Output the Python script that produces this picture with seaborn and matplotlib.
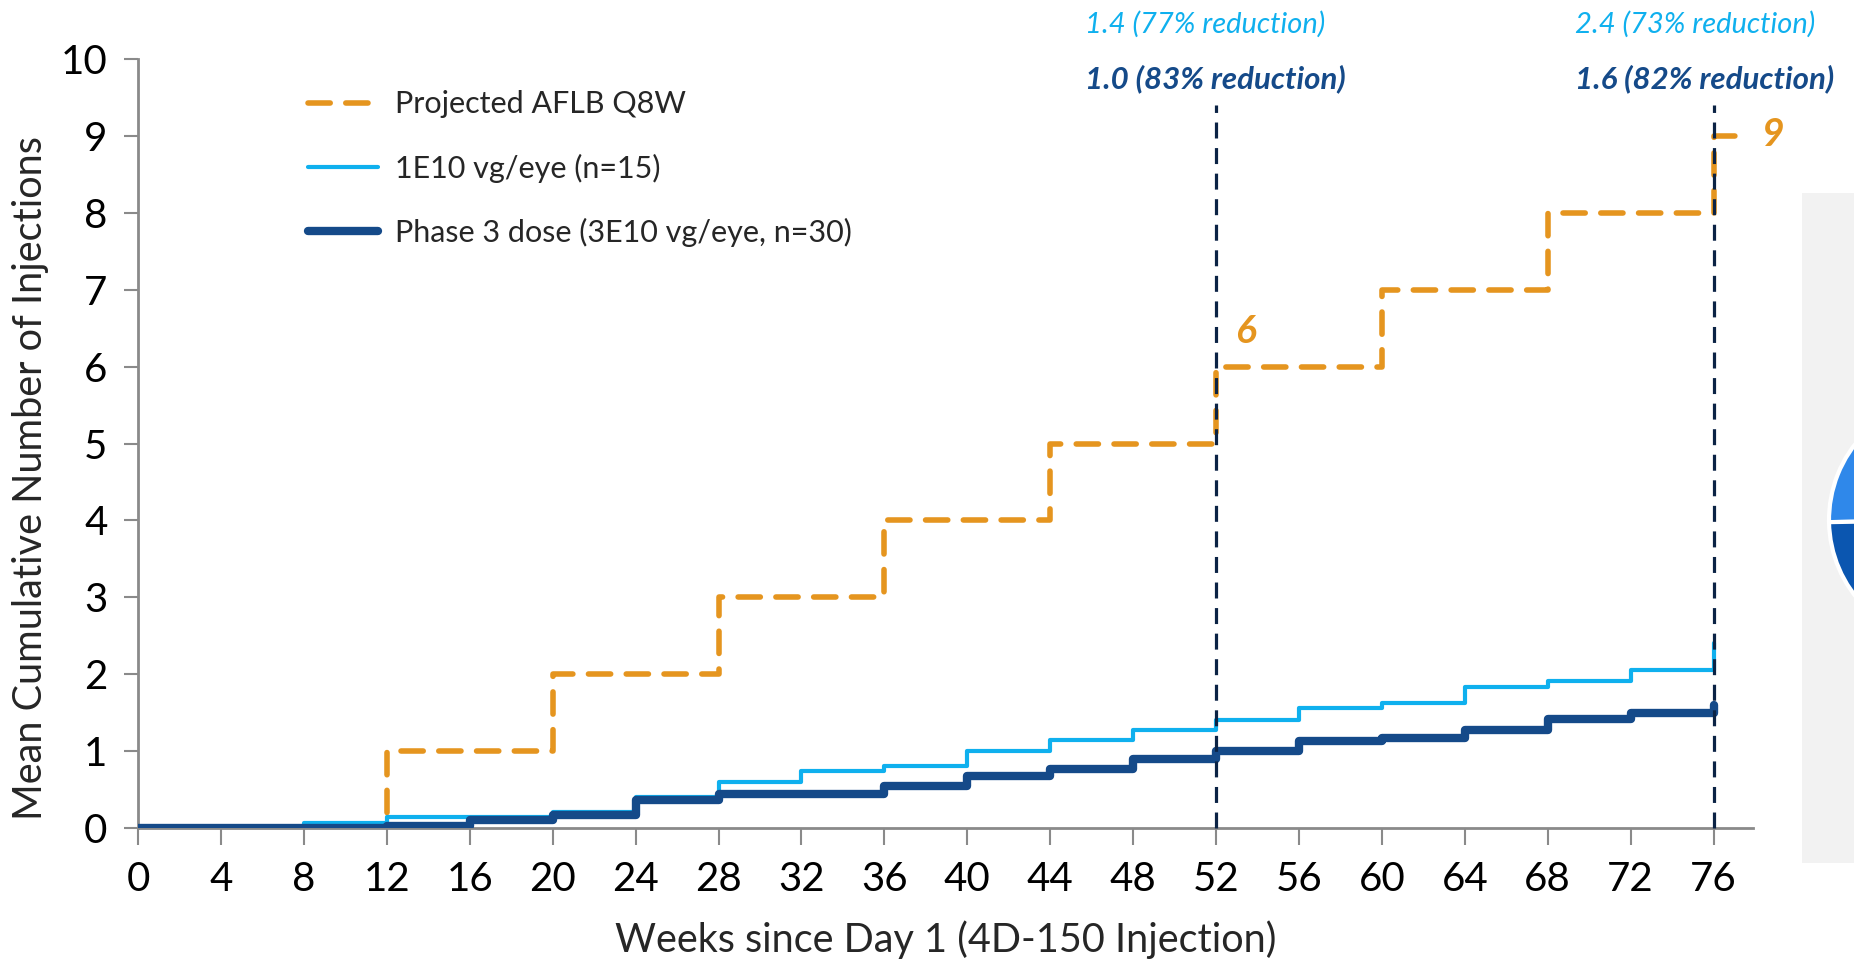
import matplotlib
matplotlib.use("Agg")
import matplotlib.pyplot as plt
from matplotlib.patches import Wedge
import seaborn as sns
import pandas as pd

# Cumulative injections over time
aflb_weeks = [0, 12, 20, 28, 36, 44, 52, 60, 68, 76, 77.4]
aflb_inj = [0, 1, 2, 3, 4, 5, 6, 7, 8, 9, 9]

low_weeks = [0, 8, 12, 20, 24, 28, 32, 36, 40, 44, 48, 52, 56, 60, 64, 68, 72, 76]
low_inj = [0, 0.07, 0.14, 0.21, 0.40, 0.60, 0.74, 0.81, 1.00, 1.14, 1.27,
           1.4, 1.56, 1.63, 1.83, 1.91, 2.06, 2.4]

ph3_weeks = [0, 12, 16, 20, 24, 28, 36, 40, 44, 48, 52, 56, 60, 64, 68, 72, 76]
ph3_inj = [0, 0.03, 0.10, 0.17, 0.37, 0.44, 0.54, 0.67, 0.77, 0.90,
           1.0, 1.13, 1.17, 1.28, 1.42, 1.50, 1.6]

series_labels = ["Projected AFLB Q8W", "1E10 vg/eye (n=15)",
                 "Phase 3 dose (3E10 vg/eye, n=30)"]

milestones = [52, 76]
low_notes = ["1.4 (77% reduction)", "2.4 (73% reduction)"]
ph3_notes = ["1.0 (83% reduction)", "1.6 (82% reduction)"]
note_x = [45.7, 69.3]

x_ticks = list(range(0, 80, 4))
y_ticks = list(range(0, 11))

ORANGE = "#e5951f"
LIGHT = "#0fb0ee"
NAVY = "#154a89"
VLINE = "#0b2345"
AXIS_GRAY = "#8a8a8a"

sns.set_theme(style="ticks")
plt.rcParams["font.family"] = ["Lato", "DejaVu Sans"]

fig = plt.figure(figsize=(18.54, 9.61), dpi=100)
ax = fig.add_axes([0.0745, 0.1384, 0.871, 0.8002])

df_aflb = pd.DataFrame({"week": aflb_weeks, "inj": aflb_inj})
df_low = pd.DataFrame({"week": low_weeks, "inj": low_inj})
df_ph3 = pd.DataFrame({"week": ph3_weeks, "inj": ph3_inj})

sns.lineplot(data=df_aflb, x="week", y="inj", ax=ax, color=ORANGE, lw=4,
             drawstyle="steps-post", dashes=False, label=series_labels[0],
             linestyle=(0, (4, 2.8)), dash_capstyle="round", zorder=2)
sns.lineplot(data=df_low, x="week", y="inj", ax=ax, color=LIGHT, lw=3,
             drawstyle="steps-post", label=series_labels[1], zorder=3)
sns.lineplot(data=df_ph3, x="week", y="inj", ax=ax, color=NAVY, lw=6,
             drawstyle="steps-post", label=series_labels[2], zorder=4)

for m in milestones:
    ax.plot([m, m], [0, 9.4], color=VLINE, lw=2.3, linestyle=(0, (5, 3)),
            zorder=6, clip_on=False)

for xn, lo, hi in zip(note_x, low_notes, ph3_notes):
    ax.text(xn, 10.45, lo, color=LIGHT, fontsize=21, style="italic",
            fontweight="normal", ha="left", va="center", clip_on=False)
    ax.text(xn, 9.74, hi, color=NAVY, fontsize=22.5, style="italic",
            fontweight="bold", ha="left", va="center", clip_on=False)

ax.text(53.4, 6.45, "6", color=ORANGE, fontsize=28, style="italic",
        fontweight="bold", ha="center", va="center")
ax.text(78.9, 9.02, "9", color=ORANGE, fontsize=28, style="italic",
        fontweight="bold", ha="center", va="center", clip_on=False)

ax.set_xlim(0, 77.9)
ax.set_ylim(0, 10)
ax.set_xticks(x_ticks)
ax.set_yticks(y_ticks)
ax.tick_params(axis="both", labelsize=29, colors=AXIS_GRAY, labelcolor="black",
               width=1.5, length=10, pad=12)
ax.tick_params(axis="x", length=12, pad=12)
for side in ["top", "right"]:
    ax.spines[side].set_visible(False)
for side in ["left", "bottom"]:
    ax.spines[side].set_color(AXIS_GRAY)
    ax.spines[side].set_linewidth(2)

ax.set_xlabel("Weeks since Day 1 (4D-150 Injection)", fontsize=28.5, va="center")
ax.set_ylabel("Mean Cumulative Number of Injections", fontsize=28.5, va="center")
ax.xaxis.set_label_coords(0.5, -0.145)
ax.yaxis.set_label_coords(-0.0665, 0.455)

leg = ax.legend(loc="upper left", bbox_to_anchor=(0.088, 0.995), frameon=False,
                fontsize=22, handlelength=2.3, handletextpad=0.55,
                labelspacing=1.15)

# Side panel with a partly visible pie
side = fig.add_axes([1802 / 1854, 1 - 863 / 961, 52 / 1854, 670 / 961])
side.set_xlim(1802, 1854)
side.set_ylim(98, 768)
side.set_axis_off()
side.add_patch(plt.Rectangle((1802, 98), 52, 670, color="#f2f2f2", zorder=0))
side.add_patch(Wedge((1952, 441), 123, 90, 181, facecolor="#2f88ea",
                     edgecolor="white", lw=3, zorder=2))
side.add_patch(Wedge((1952, 441), 123, 181, 270, facecolor="#0b56b0",
                     edgecolor="white", lw=3, zorder=2))

fig.savefig("out.png", dpi=100)
